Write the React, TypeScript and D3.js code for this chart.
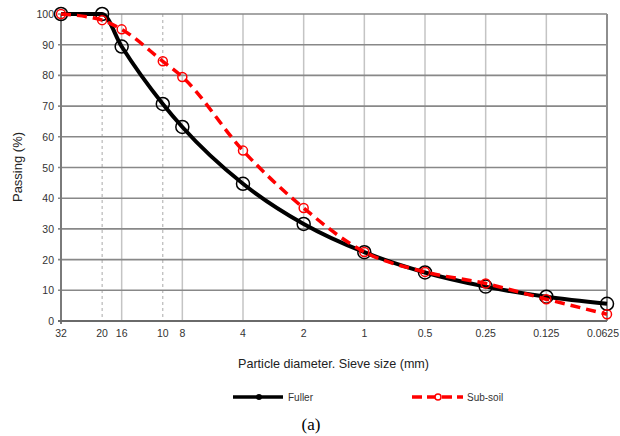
import * as d3 from 'd3';
import { useEffect, useRef } from 'react';

const sieves = [32, 20, 16, 10, 8, 4, 2, 1, 0.5, 0.25, 0.125, 0.0625];
const tickLabels = ['32', '20', '16', '10', '8', '4', '2', '1', '0.5', '0.25', '0.125', '0.0625'];
const fuller = [100, 100, 89.4, 70.7, 63.2, 44.7, 31.6, 22.4, 15.8, 11.2, 7.9, 5.6];
const subSoil = [100, 98, 95, 84.6, 79.5, 55.5, 36.8, 22.5, 16, 12.2, 7.1, 2.2];
const dashedTicks = [20, 10];
const yTicks = [0, 10, 20, 30, 40, 50, 60, 70, 80, 90, 100];

const W = 620;
const H = 436;
const left = 61;
const right = 607;
const top = 14;
const bottom = 321;
const font = 'Liberation Sans, Arial, sans-serif';

function App() {
  const svgRef = useRef<SVGSVGElement>(null);

  useEffect(() => {
    const svg = d3.select(svgRef.current);
    svg.selectAll('*').remove();

    const x = d3.scaleLog().base(2).domain([32, 0.0625]).range([left, right]);
    const y = d3.scaleLinear().domain([0, 100]).range([bottom, top]);

    // vertical grid
    svg
      .append('g')
      .selectAll('line')
      .data(sieves.filter(s => !dashedTicks.includes(s) && s !== 32 && s !== 0.0625))
      .join('line')
      .attr('x1', d => x(d))
      .attr('x2', d => x(d))
      .attr('y1', top)
      .attr('y2', bottom)
      .attr('stroke', '#c4c4c4')
      .attr('stroke-width', 1.5);

    svg
      .append('g')
      .selectAll('line')
      .data(dashedTicks)
      .join('line')
      .attr('x1', d => x(d))
      .attr('x2', d => x(d))
      .attr('y1', y(100))
      .attr('y2', bottom)
      .attr('stroke', '#aaaaaa')
      .attr('stroke-width', 1)
      .attr('stroke-dasharray', '3,3');

    // horizontal grid
    svg
      .append('g')
      .selectAll('line')
      .data(yTicks.filter(t => t > 0))
      .join('line')
      .attr('x1', left - 3)
      .attr('x2', right)
      .attr('y1', d => y(d))
      .attr('y2', d => y(d))
      .attr('stroke', '#888888')
      .attr('stroke-width', 1.6);

    // right border and axes
    svg
      .append('line')
      .attr('x1', right)
      .attr('x2', right)
      .attr('y1', top)
      .attr('y2', bottom)
      .attr('stroke', '#8e8e8e')
      .attr('stroke-width', 2);
    svg
      .append('line')
      .attr('x1', left)
      .attr('x2', left)
      .attr('y1', top)
      .attr('y2', bottom + 3)
      .attr('stroke', '#7a7a7a')
      .attr('stroke-width', 2);
    svg
      .append('line')
      .attr('x1', left - 3)
      .attr('x2', right)
      .attr('y1', bottom)
      .attr('y2', bottom)
      .attr('stroke', '#6a6a6a')
      .attr('stroke-width', 2);

    // y tick labels
    svg
      .append('g')
      .selectAll('text')
      .data(yTicks)
      .join('text')
      .attr('x', left - 7)
      .attr('y', d => y(d) + 4)
      .attr('text-anchor', 'end')
      .attr('font-family', font)
      .attr('font-size', 10.5)
      .attr('fill', '#333')
      .text(d => d);

    // x tick labels (last one kept inside the frame)
    svg
      .append('g')
      .selectAll('text')
      .data(sieves)
      .join('text')
      .attr('x', (d, i) => (i === sieves.length - 1 ? W - 1 : x(d)))
      .attr('y', 337)
      .attr('text-anchor', (d, i) => (i === sieves.length - 1 ? 'end' : 'middle'))
      .attr('font-family', font)
      .attr('font-size', 10.5)
      .attr('fill', '#333')
      .text((d, i) => tickLabels[i]);

    // titles
    svg
      .append('text')
      .attr('transform', 'translate(22,167) rotate(-90)')
      .attr('text-anchor', 'middle')
      .attr('font-family', font)
      .attr('font-size', 13)
      .attr('fill', '#222')
      .text('Passing (%)');
    svg
      .append('text')
      .attr('x', 238)
      .attr('y', 368)
      .attr('font-family', font)
      .attr('font-size', 12.6)
      .attr('fill', '#222')
      .text('Particle diameter. Sieve size (mm)');

    const line = d3
      .line<number>()
      .x((d, i) => x(sieves[i]))
      .y(d => y(d))
      .curve(d3.curveMonotoneX);

    svg
      .append('path')
      .attr('d', line(fuller))
      .attr('fill', 'none')
      .attr('stroke', '#000')
      .attr('stroke-width', 4);
    svg
      .append('g')
      .selectAll('circle')
      .data(fuller)
      .join('circle')
      .attr('cx', (d, i) => x(sieves[i]))
      .attr('cy', d => y(d))
      .attr('r', 6.5)
      .attr('fill', 'none')
      .attr('stroke', '#000')
      .attr('stroke-width', 1.5);

    svg
      .append('path')
      .attr('d', line(subSoil))
      .attr('fill', 'none')
      .attr('stroke', '#ff0000')
      .attr('stroke-width', 3.5)
      .attr('stroke-dasharray', '10,6');
    svg
      .append('g')
      .selectAll('circle')
      .data(subSoil)
      .join('circle')
      .attr('cx', (d, i) => x(sieves[i]))
      .attr('cy', d => y(d))
      .attr('r', 4.5)
      .attr('fill', 'none')
      .attr('stroke', '#ff0000')
      .attr('stroke-width', 1.5);

    // legend
    const lg = svg.append('g');
    lg.append('line')
      .attr('x1', 233)
      .attr('x2', 283)
      .attr('y1', 397)
      .attr('y2', 397)
      .attr('stroke', '#000')
      .attr('stroke-width', 3.5);
    lg.append('circle').attr('cx', 259).attr('cy', 397).attr('r', 3).attr('fill', '#000');
    lg.append('text')
      .attr('x', 288)
      .attr('y', 401)
      .attr('font-family', font)
      .attr('font-size', 10)
      .attr('fill', '#333')
      .text('Fuller');
    lg.append('line')
      .attr('x1', 412)
      .attr('x2', 463)
      .attr('y1', 397)
      .attr('y2', 397)
      .attr('stroke', '#ff0000')
      .attr('stroke-width', 3.5)
      .attr('stroke-dasharray', '10,5');
    lg.append('circle')
      .attr('cx', 438)
      .attr('cy', 397)
      .attr('r', 3)
      .attr('fill', '#fff')
      .attr('stroke', '#ff0000')
      .attr('stroke-width', 1.5);
    lg.append('text')
      .attr('x', 467)
      .attr('y', 401)
      .attr('font-family', font)
      .attr('font-size', 10)
      .attr('fill', '#333')
      .text('Sub-soil');

    svg
      .append('text')
      .attr('x', 311)
      .attr('y', 430)
      .attr('text-anchor', 'middle')
      .attr('font-family', 'Liberation Serif, Times New Roman, serif')
      .attr('font-size', 17)
      .attr('fill', '#000')
      .text('(a)');
  }, []);

  return (
    <svg
      ref={svgRef}
      width={W}
      height={H}
      style={{ position: 'absolute', left: 0, top: 0, background: '#fff' }}
    />
  );
}

export default App;
